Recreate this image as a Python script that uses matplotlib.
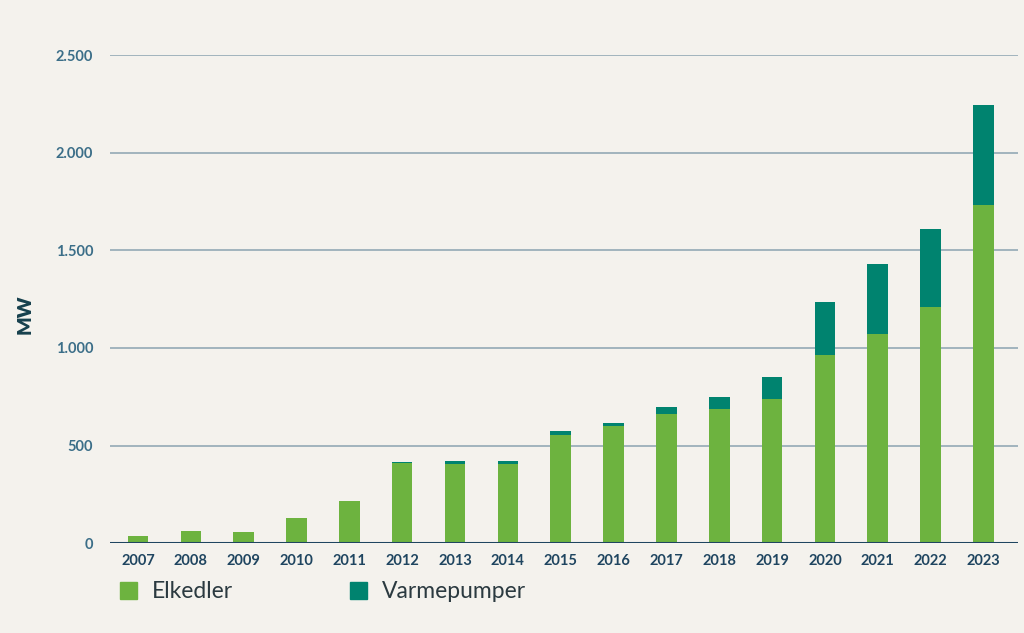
import numpy as np
import matplotlib.pyplot as plt
from matplotlib.patches import Patch

years = ["2007", "2008", "2009", "2010", "2011", "2012", "2013", "2014", "2015",
         "2016", "2017", "2018", "2019", "2020", "2021", "2022", "2023"]
elkedler = [35, 60, 58, 130, 218, 408, 407, 407, 552, 598, 660, 688, 736, 965, 1071, 1207, 1734]
varmepumper = [0, 0, 0, 0, 0, 10, 14, 14, 23, 19, 38, 61, 116, 271, 357, 403, 509]
yticks = [0, 500, 1000, 1500, 2000, 2500]
ytick_labels = ["0", "500", "1.000", "1.500", "2.000", "2.500"]

bg = "#f4f2ed"
green = "#6db33f"
teal = "#00836f"
tick_col = "#3b6e88"
navy = "#1f4560"

plt.rcParams['font.family'] = ['Lato', 'DejaVu Sans']

fig = plt.figure(figsize=(10.24, 6.33), dpi=100, facecolor=bg)
ax = fig.add_axes([0.1074, 0.142, 0.887, 0.771], facecolor=bg)

x = np.arange(len(years))
ax.bar(x, elkedler, width=0.39, color=green, zorder=3)
ax.bar(x, varmepumper, width=0.39, bottom=elkedler, color=teal, zorder=3)

ax.set_xlim(-0.53, 16.66)
ax.set_ylim(0, 2500)
ax.set_yticks(yticks)
ax.set_yticklabels(ytick_labels)
ax.set_xticks(x)
ax.set_xticklabels(years)
for s in ax.spines.values():
    s.set_visible(False)
ax.grid(axis="y", color="#93a9b5", lw=1.2, zorder=1)
ax.axhline(0, color=navy, lw=2.2, zorder=4)
ax.tick_params(axis="y", length=0, pad=12, labelsize=10.5, labelcolor=tick_col)
ax.tick_params(axis="x", length=0, pad=8, labelsize=10.5, labelcolor=navy)
for lab in ax.get_xticklabels() + ax.get_yticklabels():
    lab.set_fontweight("bold")

fig.text(0.025, 0.503, "MW", rotation=90, ha="center", va="center",
         fontsize=14, fontweight="heavy", color="#16404d")

handles = [Patch(color=green, label="Elkedler"), Patch(color=teal, label="Varmepumper")]
fig.legend(handles=handles, loc="center left", bbox_to_anchor=(0.097, 0.065),
           ncol=2, frameon=False, fontsize=16.5, handlelength=0.75, handleheight=0.75,
           handletextpad=0.65, columnspacing=5.1, labelcolor="#2b3a40")

fig.savefig("out.png", dpi=100, facecolor=bg)
